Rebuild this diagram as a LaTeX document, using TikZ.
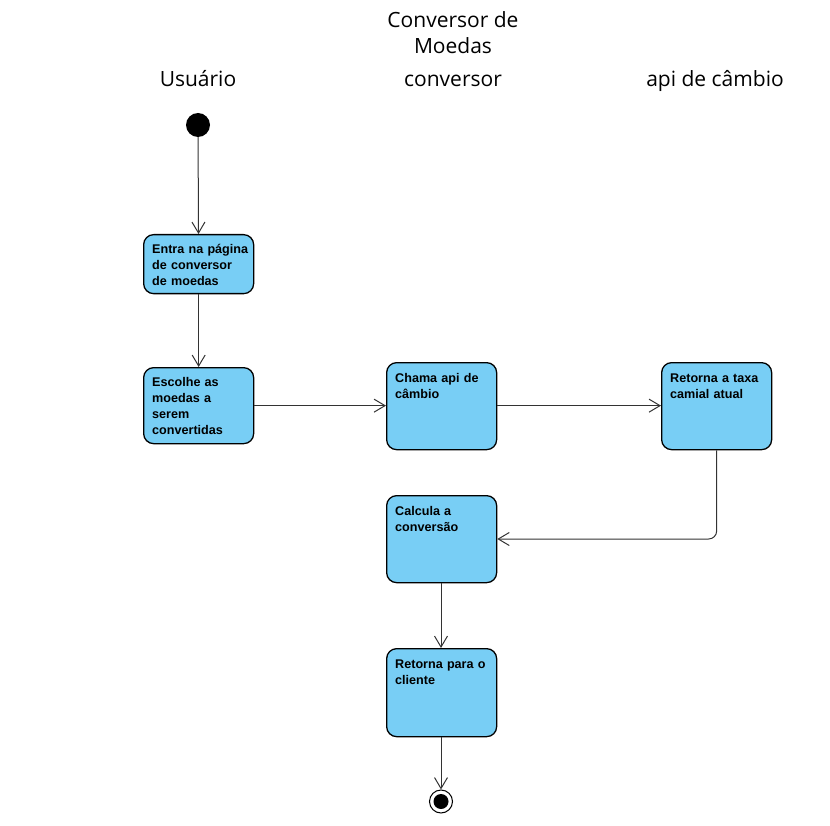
\documentclass[tikz,border=0pt]{standalone}
\usepackage{fontspec}
\setmainfont{Liberation Sans}
\newfontfamily\titlefont{Open Sans}
\usetikzlibrary{arrows.meta}
\definecolor{boxblue}{HTML}{78CEF5}
\definecolor{linegray}{HTML}{333333}
\begin{document}
\begin{tikzpicture}[x=1pt,y=-1pt,
  actbox/.style={draw=black,line width=1.3pt,fill=boxblue,rounded corners=10pt,
    minimum width=110pt,inner sep=0pt,anchor=north west},
  acttext/.style={anchor=base west,inner sep=0pt,align=left,text width=100pt,
    font=\fontsize{12.6}{16}\selectfont\bfseries},
  lane/.style={font=\titlefont\fontsize{21}{25.6}\selectfont,inner sep=0pt,anchor=base},
  flow/.style={draw=linegray,line width=1pt,-{Straight Barb[length=11pt,width=13pt,line width=1pt]}}
]
\useasboundingbox (0,0) rectangle (830,826);
% titles
\node[lane,align=center] (title) at (453,53.5) {Conversor de\\Moedas};
\node[lane] (lu) at (198,86.5) {Usuário};
\node[lane] (lc) at (453,86.5) {conversor};
\node[lane] (la) at (715,86.5) {api de câmbio};
% start / end
\node[circle,fill=black,minimum size=24pt,inner sep=0pt] (start) at (198,125) {};
\node[circle,draw=black,line width=1pt,minimum size=23pt,inner sep=0pt] (endo) at (441,801.5) {};
\node[circle,fill=black,minimum size=15pt,inner sep=0pt] (endi) at (441,801.5) {};
% boxes
\node[actbox,minimum height=59pt] (b1) at (143,234) {};
\node[acttext] (t1) at (152,253.5) {Entra na página\\de conversor\\de moedas};
\node[actbox,minimum height=76pt] (b2) at (143,367) {};
\node[acttext] (t2) at (152,386.5) {Escolhe as\\moedas a\\serem\\convertidas};
\node[actbox,minimum height=87pt] (b3) at (386,362) {};
\node[acttext] (t3) at (395,382) {Chama api de\\câmbio};
\node[actbox,minimum height=87pt] (b4) at (661,362) {};
\node[acttext] (t4) at (670,382) {Retorna a taxa\\camial atual};
\node[actbox,minimum height=87pt] (b5) at (386,495) {};
\node[acttext] (t5) at (395,515) {Calcula a\\conversão};
\node[actbox,minimum height=88pt] (b6) at (386,648) {};
\node[acttext] (t6) at (395,668) {Retorna para o\\cliente};
% flows
\draw[flow] (start) -- (b1);
\draw[flow] (b1) -- (b2);
\draw[flow] (b2.east) -- (b3.west |- b2.east);
\draw[flow] (b3.east |- b2.east) -- (b4.west |- b2.east);
\draw[flow,rounded corners=8pt] (b4.south) -- (b4.south |- 0,539) -- (b5.east |- 0,539);
\draw[flow] (b5.south -| 441,0) -- (b6.north -| 441,0);
\draw[flow] (b6.south -| 441,0) -- (endo);
\end{tikzpicture}
\end{document}
